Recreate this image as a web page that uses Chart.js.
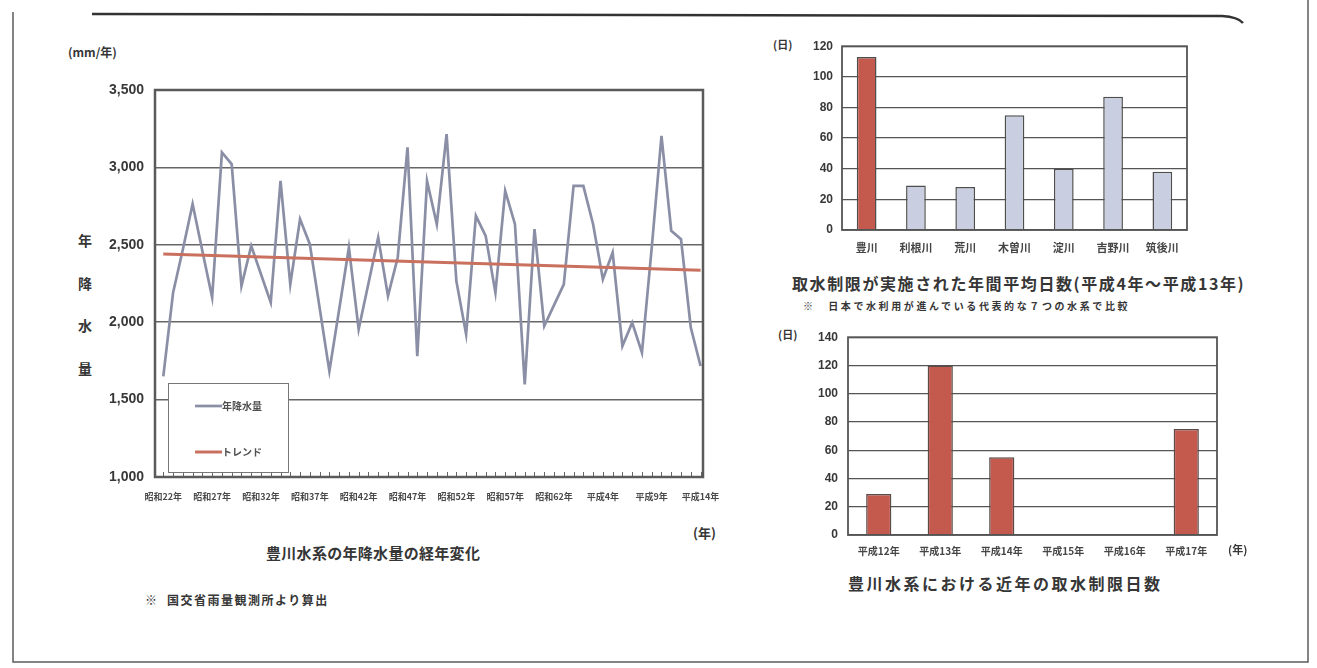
<!DOCTYPE html>
<html lang="ja">
<head>
<meta charset="utf-8">
<title>豊川水系の年降水量と取水制限日数</title>
<script src="https://cdn.jsdelivr.net/npm/chart.js@4.4.1/dist/chart.umd.min.js"></script>
<style>
  html, body { margin: 0; padding: 0; background: #ffffff; }
  body {
    width: 1317px; height: 668px; position: relative; overflow: hidden;
    font-family: "Noto Sans CJK JP", "Noto Sans", sans-serif; font-weight: 700; color: #363636;
  }
  .t { position: absolute; white-space: nowrap; line-height: 1; }
  canvas { position: absolute; }
  #frame { position: absolute; left: 0; top: 0; }
</style>
</head>
<body>
<svg id="frame" width="1317" height="668">
  <path d="M13 12 L13 662 L1308 662 L1308 0" fill="none" stroke="#5c5c5c" stroke-width="1.5"/>
  <path d="M92 14 L1222 16 Q1238 17 1243 23" fill="none" stroke="#333" stroke-width="2.5"/>
</svg>

<!-- 年降水量の経年変化 -->
<div class="t" style="left:68px;top:46px;font-size:12px;">(mm/年)</div>
<div class="t" style="left:78px;top:233px;font-size:14px;">年</div>
<div class="t" style="left:78px;top:276px;font-size:14px;">降</div>
<div class="t" style="left:78px;top:318px;font-size:14px;">水</div>
<div class="t" style="left:78px;top:361px;font-size:14px;">量</div>
<div class="t" style="left:693px;top:526px;font-size:13px;">(年)</div>
<div class="t" style="left:266px;top:545px;font-size:15px;letter-spacing:0.3px;">豊川水系の年降水量の経年変化</div>
<div class="t" style="left:145px;top:594px;font-size:12px;letter-spacing:1.5px;">※&nbsp;&nbsp;国交省雨量観測所より算出</div>
<canvas id="rain" width="650" height="450" style="left:90px;top:70px;"></canvas>

<!-- 年間平均日数 -->
<div class="t" style="left:773px;top:39px;font-size:11px;">(日)</div>
<canvas id="avg" width="480" height="235" style="left:770px;top:30px;"></canvas>
<div class="t" style="left:792px;top:275px;font-size:16px;letter-spacing:1.6px;">取水制限が実施された年間平均日数(平成4年～平成13年)</div>
<div class="t" style="left:803px;top:301px;font-size:10px;letter-spacing:2.6px;">※　日本で水利用が進んでいる代表的な７つの水系で比較</div>

<!-- 近年の取水制限日数 -->
<div class="t" style="left:778px;top:329px;font-size:11px;">(日)</div>
<canvas id="recent" width="480" height="245" style="left:770px;top:320px;"></canvas>
<div class="t" style="left:1228px;top:544px;font-size:11px;">(年)</div>
<div class="t" style="left:848px;top:575px;font-size:16px;letter-spacing:2.5px;">豊川水系における近年の取水制限日数</div>

<script>
// ---- data ----
const yearTicks = ['昭和22年', '昭和27年', '昭和32年', '昭和37年', '昭和42年', '昭和47年',
                   '昭和52年', '昭和57年', '昭和62年', '平成4年', '平成9年', '平成14年'];
// annual rainfall (mm/year), one value per year from 昭和22年 to 平成14年
const rainfall = [1650, 2190, 2470, 2763, 2460, 2160, 3097, 3021, 2234, 2493,
                  2310, 2127, 2913, 2245, 2666, 2504, 2094, 1684, 2080, 2483,
                  1954, 2250, 2547, 2170, 2418, 3129, 1781, 2913, 2633, 3215,
                  2267, 1922, 2687, 2558, 2191, 2849, 2633, 1598, 2601, 1975,
                  2110, 2245, 2881, 2881, 2633, 2277, 2450, 1846, 1997, 1803,
                  2480, 3204, 2590, 2536, 1965, 1717];
// trend line: values at the first and last year
const trend = [2440, 2335];

const rivers = ['豊川', '利根川', '荒川', '木曽川', '淀川', '吉野川', '筑後川'];
const avgDays = [113, 29, 28, 75, 40, 87, 38];

const recentYears = ['平成12年', '平成13年', '平成14年', '平成15年', '平成16年', '平成17年'];
const recentDays = [29, 120, 55, 0, 0, 75];

// ---- shared styling ----
const CJK = '"Noto Sans CJK JP", "Noto Sans", sans-serif';
const NUM = '"Liberation Sans", Arial, sans-serif';
const TEXT = '#383838';
const RED = '#c4594e';
const PALE = '#c9cfe0';

// outline around the plotting area
const framePlugin = {
  id: 'frame',
  afterDraw(chart, args, opts) {
    const a = chart.chartArea, c = chart.ctx;
    c.save();
    c.strokeStyle = opts.color || '#555';
    c.lineWidth = opts.width || 2;
    c.strokeRect(a.left, a.top, a.right - a.left, a.bottom - a.top);
    c.restore();
  }
};

// small tick marks along the bottom edge, one per year
const yearMarks = {
  id: 'yearMarks',
  afterDatasetsDraw(chart) {
    const xs = chart.scales.x, a = chart.chartArea, c = chart.ctx;
    c.save();
    c.strokeStyle = '#666';
    c.lineWidth = 1;
    for (let i = 0; i < rainfall.length; i++) {
      const px = Math.round(xs.getPixelForValue(i)) + 0.5;
      c.beginPath();
      c.moveTo(px, a.bottom);
      c.lineTo(px, a.bottom - 5);
      c.stroke();
    }
    c.restore();
  }
};

// boxed legend in the lower-left corner of the plot
const boxLegend = {
  id: 'boxLegend',
  afterDraw(chart) {
    const a = chart.chartArea, c = chart.ctx;
    const x = a.left + 13, y = a.bottom - 94, w = 120, h = 89;
    c.save();
    c.fillStyle = '#fff';
    c.fillRect(x, y, w, h);
    c.strokeStyle = '#777';
    c.lineWidth = 1;
    c.strokeRect(x + 0.5, y + 0.5, w, h);
    const items = chart.data.datasets.slice().reverse();
    const rows = [y + 23, y + 69];
    items.forEach((ds, k) => {
      c.strokeStyle = ds.borderColor;
      c.lineWidth = ds.borderWidth;
      c.beginPath();
      c.moveTo(x + 27, rows[k]);
      c.lineTo(x + 54, rows[k]);
      c.stroke();
      c.fillStyle = '#505050';
      c.font = 'bold 10px ' + CJK;
      c.textBaseline = 'middle';
      c.fillText(ds.label, x + 54, rows[k] + 0.5);
    });
    c.restore();
  }
};

// ---- 年降水量の経年変化 ----
new Chart(document.getElementById('rain'), {
  type: 'line',
  data: {
    datasets: [
      {
        label: 'トレンド',
        data: [{ x: 0, y: trend[0] }, { x: rainfall.length - 1, y: trend[1] }],
        borderColor: '#c9705f', borderWidth: 3, pointRadius: 0
      },
      {
        label: '年降水量',
        data: rainfall.map((v, i) => ({ x: i, y: v })),
        borderColor: '#8b8fa6', borderWidth: 2.7, pointRadius: 0, tension: 0
      }
    ]
  },
  options: {
    responsive: false, animation: false,
    layout: { padding: { top: 20, right: 37, left: 0, bottom: 0 } },
    plugins: {
      legend: { display: false }, tooltip: { enabled: false },
      frame: { color: '#5a5a5a', width: 2.5 }
    },
    scales: {
      x: {
        type: 'linear', min: -0.85, max: 55.25,
        afterBuildTicks: s => { s.ticks = yearTicks.map((_, k) => ({ value: k * 5 })); },
        ticks: {
          autoSkip: false, maxRotation: 0, padding: 14, color: '#4a4a4a',
          font: { family: CJK, size: 9, weight: 'bold' },
          callback: (v, i) => yearTicks[i]
        },
        grid: { display: false, drawTicks: false }, border: { display: false },
        afterFit: s => { s.height = 43; }
      },
      y: {
        min: 1000, max: 3500,
        ticks: {
          stepSize: 500, padding: 11, color: TEXT,
          font: { family: NUM, size: 14, weight: 'bold' },
          callback: v => v.toLocaleString('en-US')
        },
        grid: { color: '#666', lineWidth: 1.5, drawTicks: false },
        border: { display: false },
        afterFit: s => { s.width = 65; }
      }
    }
  },
  plugins: [yearMarks, framePlugin, boxLegend]
});

// ---- 取水制限が実施された年間平均日数 ----
new Chart(document.getElementById('avg'), {
  type: 'bar',
  data: {
    labels: rivers,
    datasets: [{
      data: avgDays,
      backgroundColor: ctx => ctx.dataIndex === 0 ? RED : PALE,
      borderColor: '#4e4e4e', borderWidth: 1.5,
      barPercentage: 0.4, categoryPercentage: 1
    }]
  },
  options: {
    responsive: false, animation: false,
    layout: { padding: { top: 12, right: 63, left: 0, bottom: 0 } },
    plugins: { legend: { display: false }, tooltip: { enabled: false }, frame: { color: '#555', width: 1.8 } },
    scales: {
      x: {
        ticks: { padding: 11, color: '#454545', font: { family: CJK, size: 11, weight: 'bold' } },
        grid: { display: false, drawTicks: false }, border: { display: false },
        afterFit: s => { s.height = 35; }
      },
      y: {
        min: 0, max: 120,
        ticks: { stepSize: 20, padding: 9, color: TEXT, font: { family: NUM, size: 12, weight: 'bold' } },
        grid: { color: '#555', lineWidth: 1.3, drawTicks: false },
        border: { display: false },
        afterFit: s => { s.width = 72; }
      }
    }
  },
  plugins: [framePlugin]
});

// ---- 豊川水系における近年の取水制限日数 ----
new Chart(document.getElementById('recent'), {
  type: 'bar',
  data: {
    labels: recentYears,
    datasets: [{
      data: recentDays,
      backgroundColor: RED, borderColor: '#5a4a48', borderWidth: 1.5,
      barPercentage: 0.41, categoryPercentage: 1
    }]
  },
  options: {
    responsive: false, animation: false,
    layout: { padding: { top: 13, right: 33, left: 0, bottom: 0 } },
    plugins: { legend: { display: false }, tooltip: { enabled: false }, frame: { color: '#555', width: 1.8 } },
    scales: {
      x: {
        ticks: { padding: 10, color: '#454545', font: { family: CJK, size: 10, weight: 'bold' } },
        grid: { display: false, drawTicks: false }, border: { display: false },
        afterFit: s => { s.height = 30; }
      },
      y: {
        min: 0, max: 140,
        ticks: { stepSize: 20, padding: 10, color: TEXT, font: { family: NUM, size: 12, weight: 'bold' } },
        grid: { color: '#555', lineWidth: 1.3, drawTicks: false },
        border: { display: false },
        afterFit: s => { s.width = 78; }
      }
    }
  },
  plugins: [framePlugin]
});
</script>
</body>
</html>
